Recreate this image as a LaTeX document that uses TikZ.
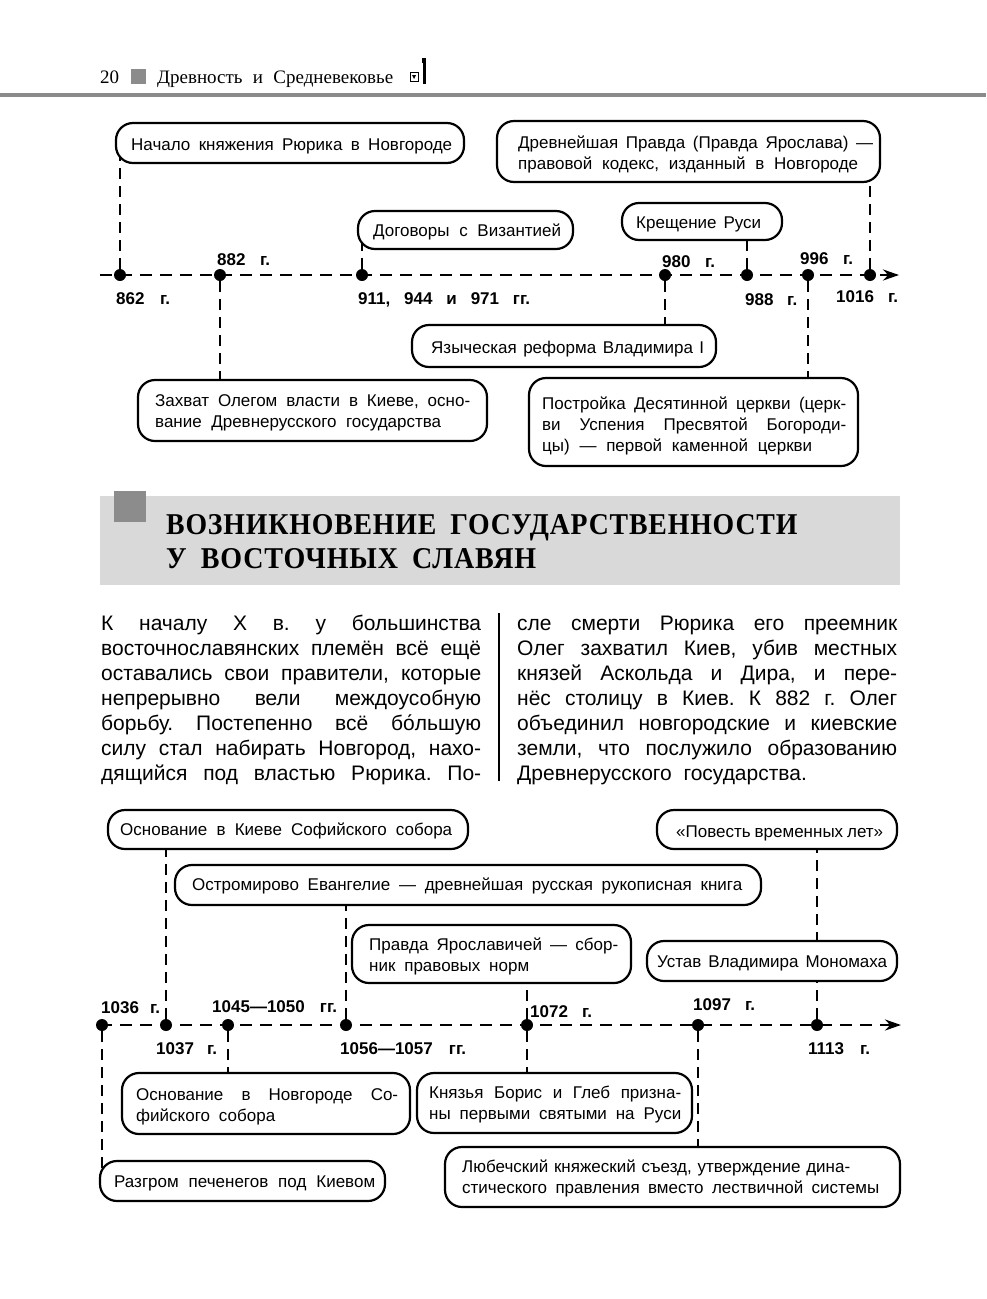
\documentclass[tikz,border=0pt]{standalone}
\usepackage{fontspec}
\usepackage{graphicx}
\setmainfont{Liberation Sans}
\newfontfamily\serifhd{Liberation Serif}
\newfontfamily\headfont[LetterSpace=3]{Liberation Serif}
\usetikzlibrary{arrows.meta}
\pgfdeclarelayer{bg}
\pgfsetlayers{bg,main}
\newcommand\jline[2]{\makebox[#1pt][s]{#2}}
\definecolor{rulegray}{HTML}{8A8A8A}
\definecolor{bandgray}{HTML}{D9D9D9}
\definecolor{sqgray}{HTML}{8C8C8C}
\frenchspacing
\begin{document}
\begin{tikzpicture}[x=1pt,y=-1pt,
  evbox/.style={draw, line width=2.2pt, rounded corners=17pt, fill=white, inner sep=0pt},
  bt/.style={inner sep=0pt, anchor=base west, font=\fontsize{17}{21}\selectfont},
  yr/.style={inner sep=0pt, anchor=base west, font=\bfseries\fontsize{17}{19}\selectfont},
  dot/.style={circle, fill=black, inner sep=0pt, minimum size=12pt},
  axis/.style={line width=2.8pt, dash pattern=on 12pt off 8pt, -{Stealth[length=16pt,width=11pt]}},
  conn/.style={line width=2pt, dash pattern=on 11pt off 7pt},
  body/.style={inner sep=0pt, anchor=base west, font=\fontsize{21}{25}\selectfont}
]
\useasboundingbox (0,0) rectangle (986,1299);

% ---------- page header ----------
\node[inner sep=0pt, anchor=base west, font=\serifhd\fontsize{19}{21}\selectfont] (pnum) at (100,83) {20};
\fill[sqgray] (131,69) rectangle (146,84);
\node[inner sep=0pt, anchor=base west, font=\serifhd\fontsize{19}{21}\selectfont] (ptitle) at (157,83) {\jline{236}{Древность и Средневековье}};
\draw[line width=0.9pt] (410,72) rectangle (418,81);
\fill (412,75) -- (416,75) -- (414,79) -- cycle;
\fill (422.5,62) rectangle (425.5,84);
\fill (422,58) rectangle (426,63);
\fill[rulegray] (0,92.5) rectangle (986,96.5);

% ---------- timeline 1 ----------
\coordinate (a1s) at (100,275);
\coordinate (a1e) at (899,275);
\draw[axis] (a1s) -- (a1e);
\node[dot] (d862) at (120,275) {};
\node[dot] (d882) at (220,275) {};
\node[dot] (d911) at (362,275) {};
\node[dot] (d980) at (665,275) {};
\node[dot] (d988) at (747,275) {};
\node[dot] (d996) at (808,275) {};
\node[dot] (d1016) at (870,275) {};

\node[yr] (y862) at (116,304) {\jline{54}{862 г.}};
\node[yr] (y882) at (217,265) {\jline{53}{882 г.}};
\node[yr] (y911) at (358,304) {\jline{172}{911, 944 и 971 гг.}};
\node[yr] (y980) at (662,267) {\jline{53}{980 г.}};
\node[yr] (y988) at (745,305) {\jline{52}{988 г.}};
\node[yr] (y996) at (800,264) {\jline{53}{996 г.}};
\node[yr] (y1016) at (836,302) {\jline{62}{1016 г.}};

\node[evbox, minimum width=348pt, minimum height=40pt] (b1) at (290,143) {};
\node[bt] (b1t) at (131,150) {\jline{321}{Начало княжения Рюрика в Новгороде}};
\node[evbox, minimum width=383pt, minimum height=61pt] (b2) at (688.5,151.5) {};
\node[bt] (b2t) at (518,148.5) {\parbox[t]{355pt}{\jline{355}{Древнейшая Правда (Правда Ярослава) —}\\\jline{340}{правовой кодекс, изданный в Новгороде}}};
\node[evbox, minimum width=215pt, minimum height=38pt] (b3) at (465.5,230) {};
\node[bt] (b3t) at (373,236) {\jline{188}{Договоры с Византией}};
\node[evbox, minimum width=160pt, minimum height=37pt] (b4) at (702,221.5) {};
\node[bt] (b4t) at (636,228.5) {\jline{125}{Крещение Руси}};
\node[evbox, minimum width=304pt, minimum height=42pt] (b5) at (564,346) {};
\node[bt] (b5t) at (431,353.5) {\jline{273}{Языческая реформа Владимира I}};
\node[evbox, minimum width=349pt, minimum height=61pt] (b6) at (312.5,410.5) {};
\node[bt] (b6t) at (155,406.5) {\parbox[t]{315pt}{\jline{315}{Захват Олегом власти в Киеве, осно-}\\\jline{286}{вание Древнерусского государства}}};
\node[evbox, minimum width=329pt, minimum height=88pt] (b7) at (693.5,422) {};
\node[bt] (b7t) at (542,409.5) {\parbox[t]{304pt}{\jline{304}{Постройка Десятинной церкви (церк-}\\\jline{304}{ви Успения Пресвятой Богороди-}\\\jline{270}{цы) — первой каменной церкви}}};

\begin{pgfonlayer}{bg}
\draw[conn] (d862) -- (d862 |- b1.center);
\draw[conn] (d911) -- (d911 |- b3.center);
\draw[conn] (d988) -- (d988 |- b4.center);
\draw[conn] (d1016) -- (d1016 |- b2.center);
\draw[conn] (d882) -- (d882 |- b6.center);
\draw[conn] (d980) -- (d980 |- b5.center);
\draw[conn] (d996) -- (d996 |- b7.center);
\end{pgfonlayer}

% ---------- section heading ----------
\fill[bandgray] (100,496) rectangle (900,585);
\fill[sqgray] (114,491) rectangle (146,522);
\node[inner sep=0pt, anchor=base west] (h1) at (166,534) {\resizebox{631pt}{20pt}{\headfont\bfseries ВОЗНИКНОВЕНИЕ\hspace{0.5em}ГОСУДАРСТВЕННОСТИ}};
\node[inner sep=0pt, anchor=base west] (h2) at (166,568) {\resizebox{370pt}{20pt}{\headfont\bfseries У\hspace{0.5em}ВОСТОЧНЫХ\hspace{0.5em}СЛАВЯН}};

% ---------- body text ----------
\node[body] (colL) at (101,630) {\parbox[t]{380pt}{%
\jline{380}{К началу X в. у большинства}\\
\jline{380}{восточнославянских племён всё ещё}\\
\jline{380}{оставались свои правители, которые}\\
\jline{380}{непрерывно вели междоусобную}\\
\jline{380}{борьбу. Постепенно всё бо́льшую}\\
\jline{380}{силу стал набирать Новгород, нахо-}\\
\jline{380}{дящийся под властью Рюрика. По-}}};
\node[body] (colR) at (517,630) {\parbox[t]{380pt}{%
\jline{380}{сле смерти Рюрика его преемник}\\
\jline{380}{Олег захватил Киев, убив местных}\\
\jline{380}{князей Аскольда и Дира, и пере-}\\
\jline{380}{нёс столицу в Киев. К 882 г. Олег}\\
\jline{380}{объединил новгородские и киевские}\\
\jline{380}{земли, что послужило образованию}\\
Древнерусского\ \ государства.}};
\draw[line width=2pt] (499,613) -- (499,781);

% ---------- timeline 2 ----------
\coordinate (a2s) at (100,1025);
\coordinate (a2e) at (901,1025);
\draw[axis] (a2s) -- (a2e);
\node[dot] (d1036) at (102,1025) {};
\node[dot] (d1037) at (166,1025) {};
\node[dot] (d1045) at (228,1025) {};
\node[dot] (d1056) at (346,1025) {};
\node[dot] (d1072) at (527,1025) {};
\node[dot] (d1097) at (698,1025) {};
\node[dot] (d1113) at (817,1025) {};

\node[yr] (y1036) at (101,1013) {\jline{59}{1036 г.}};
\node[yr] (y1037) at (156,1054) {\jline{61}{1037 г.}};
\node[yr] (y1045) at (212,1012) {\jline{125}{1045—1050 гг.}};
\node[yr] (y1056) at (340,1054) {\jline{126}{1056—1057 гг.}};
\node[yr] (y1072) at (530,1017) {\jline{62}{1072 г.}};
\node[yr] (y1097) at (693,1010) {\jline{62}{1097 г.}};
\node[yr] (y1113) at (808,1054) {\jline{62}{1113 г.}};

\node[evbox, minimum width=360pt, minimum height=39pt] (bA) at (288,829.5) {};
\node[bt] (bAt) at (120,835) {\jline{332}{Основание в Киеве Софийского собора}};
\node[evbox, minimum width=586pt, minimum height=40pt] (bB) at (468,885) {};
\node[bt] (bBt) at (192,890) {\jline{550}{Остромирово Евангелие — древнейшая русская рукописная книга}};
\node[evbox, minimum width=279pt, minimum height=58pt] (bC) at (491.5,954) {};
\node[bt] (bCt) at (369,950.5) {\parbox[t]{249pt}{\jline{249}{Правда Ярославичей — сбор-}\\\jline{160}{ник правовых норм}}};
\node[evbox, minimum width=240pt, minimum height=39pt] (bD) at (777,829.5) {};
\node[bt] (bDt) at (676,837.5) {\jline{207}{«Повесть временных лет»}};
\node[evbox, minimum width=250pt, minimum height=40pt] (bU) at (772,961) {};
\node[bt] (bUt) at (657,967) {\jline{230}{Устав Владимира Мономаха}};
\node[evbox, minimum width=288pt, minimum height=61pt] (bE) at (266,1103.5) {};
\node[bt] (bEt) at (136,1100.5) {\parbox[t]{262pt}{\jline{262}{Основание в Новгороде Со-}\\\jline{139}{фийского собора}}};
\node[evbox, minimum width=275pt, minimum height=60pt] (bF) at (554.5,1103) {};
\node[bt] (bFt) at (429,1098.5) {\parbox[t]{252pt}{\jline{252}{Князья Борис и Глеб призна-}\\\jline{252}{ны первыми святыми на Руси}}};
\node[evbox, minimum width=285pt, minimum height=40pt] (bG) at (242.5,1181) {};
\node[bt] (bGt) at (114,1187) {\jline{261}{Разгром печенегов под Киевом}};
\node[evbox, minimum width=455pt, minimum height=60pt] (bH) at (672.5,1177) {};
\node[bt] (bHt) at (462,1172.5) {\parbox[t]{417pt}{\jline{388}{Любечский княжеский съезд, утверждение дина-}\\\jline{417}{стического правления вместо лествичной системы}}};

\begin{pgfonlayer}{bg}
\draw[conn] (d1036) -- (d1036 |- bG.center);
\draw[conn] (d1037) -- (d1037 |- bA.center);
\draw[conn] (d1045) -- (d1045 |- bE.center);
\draw[conn] (d1056) -- (d1056 |- bB.center);
\draw[conn] (d1072) -- (d1072 |- bC.center);
\draw[conn] (d1072) -- (d1072 |- bF.center);
\draw[conn] (d1097) -- (d1097 |- bH.center);
\draw[conn] (d1113) -- (d1113 |- bU.center);
\draw[conn] (d1113 |- bU.center) -- (d1113 |- bD.center);
\end{pgfonlayer}
\end{tikzpicture}
\end{document}
